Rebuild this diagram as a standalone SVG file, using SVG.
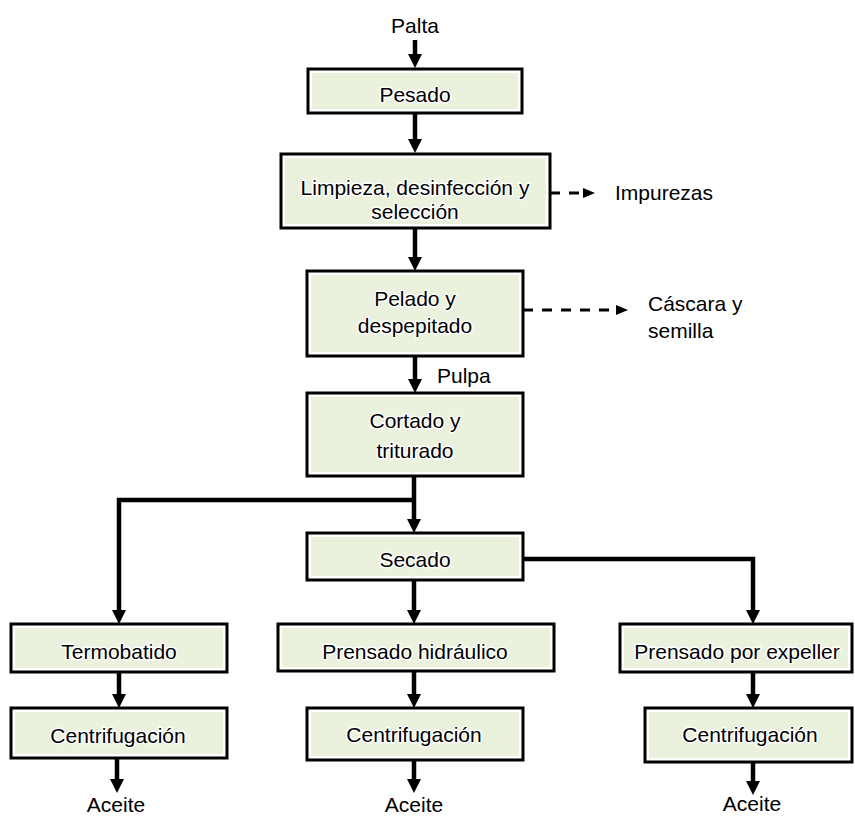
<svg xmlns="http://www.w3.org/2000/svg" width="855" height="816" viewBox="0 0 855 816">
<defs>
<style>
.box{fill:#ffffff;stroke:#000;stroke-width:3}
.in{fill:#EAF1DD;stroke:none}
.t{font-family:"Liberation Sans",Arial,sans-serif;font-size:21px;fill:#000;text-anchor:middle;stroke:#fff;stroke-width:3;stroke-linejoin:round;paint-order:stroke}
.lbl{font-family:"Liberation Sans",Arial,sans-serif;font-size:21px;fill:#000}
.c{fill:none;stroke:#000;stroke-width:4.5;marker-end:url(#ah)}
.d{fill:none;stroke:#000;stroke-width:3;stroke-dasharray:10 9;marker-end:url(#ahs)}
</style>
<marker id="ah" markerUnits="userSpaceOnUse" markerWidth="14" markerHeight="14" refX="4" refY="7" orient="auto" overflow="visible">
<path d="M0,0 L14,7 L0,14 z" fill="#000"/>
</marker>
<marker id="ahs" markerUnits="userSpaceOnUse" markerWidth="12" markerHeight="10" refX="2" refY="5" orient="auto" overflow="visible">
<path d="M0,0 L12,5 L0,10 z" fill="#000"/>
</marker>
</defs>
<rect width="855" height="816" fill="#fff"/>

<g id="connectors">
<path class="c" d="M415,40 V58"/>
<path class="c" d="M415,113 V143"/>
<path class="c" d="M415,228 V261"/>
<path class="c" d="M415,356 V383"/>
<path class="c" d="M414,476 V523"/>
<path class="c" d="M414,500 H119 V614"/>
<path class="c" d="M523,559 H753 V614"/>
<path class="c" d="M414,580 V614"/>
<path class="c" d="M119,672 V698"/>
<path class="c" d="M117,758 V783"/>
<path class="c" d="M414,671 V698"/>
<path class="c" d="M414,760 V783"/>
<path class="c" d="M753,672 V698"/>
<path class="c" d="M753,762 V785"/>
<path class="d" d="M550,193 H585"/>
<path class="d" d="M523,310 H618"/>
</g>

<g id="palta"><text class="lbl" x="415" y="33" text-anchor="middle">Palta</text></g>

<g id="pesado">
<rect class="box" x="308" y="69" width="214" height="44"/>
<rect class="in" x="312" y="73" width="206" height="36"/>
<text class="t" x="415" y="102">Pesado</text>
</g>

<g id="limpieza">
<rect class="box" x="281" y="154" width="269" height="74"/>
<rect class="in" x="285" y="158" width="261" height="66"/>
<text class="t" x="415" y="195">Limpieza, desinfección y</text>
<text class="t" x="415" y="219">selección</text>
</g>

<g id="impurezas"><text class="lbl" x="615" y="200">Impurezas</text></g>

<g id="pelado">
<rect class="box" x="307" y="271" width="216" height="85"/>
<rect class="in" x="311" y="275" width="208" height="77"/>
<text class="t" x="415" y="306">Pelado y</text>
<text class="t" x="415" y="333">despepitado</text>
</g>

<g id="cascara">
<text class="lbl" x="648" y="311">Cáscara y</text>
<text class="lbl" x="648" y="338">semilla</text>
</g>

<g id="pulpa"><text class="lbl" x="437" y="383">Pulpa</text></g>

<g id="cortado">
<rect class="box" x="307" y="393" width="216" height="83"/>
<rect class="in" x="311" y="397" width="208" height="75"/>
<text class="t" x="415" y="428">Cortado y</text>
<text class="t" x="415" y="458">triturado</text>
</g>

<g id="secado">
<rect class="box" x="307" y="533" width="216" height="47"/>
<rect class="in" x="311" y="537" width="208" height="39"/>
<text class="t" x="415" y="567">Secado</text>
</g>

<g id="termobatido">
<rect class="box" x="11" y="624" width="216" height="48"/>
<rect class="in" x="15" y="628" width="208" height="40"/>
<text class="t" x="119" y="659">Termobatido</text>
</g>

<g id="prensado-hidraulico">
<rect class="box" x="278" y="624" width="276" height="47"/>
<rect class="in" x="282" y="628" width="268" height="39"/>
<text class="t" x="415" y="659">Prensado hidráulico</text>
</g>

<g id="prensado-expeller">
<rect class="box" x="620" y="624" width="232" height="48"/>
<rect class="in" x="624" y="628" width="224" height="40"/>
<text class="t" x="737" y="659">Prensado por expeller</text>
</g>

<g id="centrifugacion-1">
<rect class="box" x="11" y="708" width="216" height="50"/>
<rect class="in" x="15" y="712" width="208" height="42"/>
<text class="t" x="118" y="743">Centrifugación</text>
</g>

<g id="centrifugacion-2">
<rect class="box" x="307" y="708" width="216" height="52"/>
<rect class="in" x="311" y="712" width="208" height="44"/>
<text class="t" x="414" y="742">Centrifugación</text>
</g>

<g id="centrifugacion-3">
<rect class="box" x="645" y="708" width="207" height="54"/>
<rect class="in" x="649" y="712" width="199" height="46"/>
<text class="t" x="750" y="742">Centrifugación</text>
</g>

<g id="aceite-1"><text class="lbl" x="116" y="812" text-anchor="middle">Aceite</text></g>
<g id="aceite-2"><text class="lbl" x="414" y="812" text-anchor="middle">Aceite</text></g>
<g id="aceite-3"><text class="lbl" x="752" y="811" text-anchor="middle">Aceite</text></g>
</svg>
